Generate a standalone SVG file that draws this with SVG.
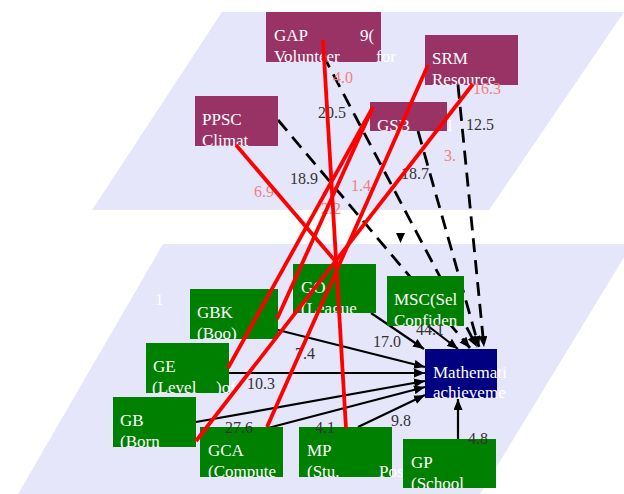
<svg xmlns="http://www.w3.org/2000/svg" width="624" height="494" viewBox="0 0 624 494">
<style>
.plane{fill:#e6e6fa}
.tn{fill:#993366}
.bn{fill:#008000}
.mn{fill:#000080}
.nt{font-family:"Liberation Serif","Times New Roman",serif;font-size:17px;fill:#ffffff}
.lbl{font-family:"Liberation Serif","Times New Roman",serif;font-size:16px;fill:#333333}
.plbl{font-family:"Liberation Serif","Times New Roman",serif;font-size:16px;fill:#f08080}
.solid{stroke:#000;stroke-width:2.2;fill:none;marker-end:url(#ah)}
.dash{stroke:#000;stroke-width:2.8;stroke-dasharray:14 8;fill:none;marker-end:url(#ah)}
.red{stroke:#ff0000;stroke-width:3.8;fill:none}
</style>
<defs>
<marker id="ah" markerWidth="11" markerHeight="9" refX="11" refY="4.5" orient="auto" markerUnits="userSpaceOnUse"><path d="M0,0 L11,4.5 L0,9 z" fill="#000"/></marker>
<clipPath id="cGAP" clipPathUnits="userSpaceOnUse"><rect x="260" y="12" width="160" height="50"/></clipPath>
<clipPath id="cSRM" clipPathUnits="userSpaceOnUse"><rect x="420" y="35" width="120" height="50"/></clipPath>
<clipPath id="cPPSC" clipPathUnits="userSpaceOnUse"><rect x="190" y="96" width="120" height="50"/></clipPath>
<clipPath id="cGSB" clipPathUnits="userSpaceOnUse"><rect x="365" y="102" width="100" height="29"/></clipPath>
<clipPath id="cGO" clipPathUnits="userSpaceOnUse"><rect x="288" y="264" width="120" height="49"/></clipPath>
<clipPath id="cGBK" clipPathUnits="userSpaceOnUse"><rect x="185" y="289" width="120" height="50"/></clipPath>
<clipPath id="cMSC" clipPathUnits="userSpaceOnUse"><rect x="382" y="276" width="120" height="50"/></clipPath>
<clipPath id="cMath" clipPathUnits="userSpaceOnUse"><rect x="420" y="349" width="120" height="49"/></clipPath>
<clipPath id="cGE" clipPathUnits="userSpaceOnUse"><rect x="140" y="343" width="120" height="50"/></clipPath>
<clipPath id="cGB" clipPathUnits="userSpaceOnUse"><rect x="108" y="397" width="120" height="50"/></clipPath>
<clipPath id="cGCA" clipPathUnits="userSpaceOnUse"><rect x="195" y="427" width="120" height="50"/></clipPath>
<clipPath id="cMP" clipPathUnits="userSpaceOnUse"><rect x="294" y="427" width="120" height="50"/></clipPath>
<clipPath id="cGP" clipPathUnits="userSpaceOnUse"><rect x="398" y="439" width="120" height="49"/></clipPath>
</defs>
<rect width="624" height="494" fill="#ffffff"/>
<g id="planes">
<polygon class="plane" points="222,12 624,12 489,210 92,210"/>
<polygon class="plane" points="163,244 632,244 480,494 18,494"/>
<text class="nt" x="155" y="305">1</text>
</g>
<g id="connectors">
<path class="dash" d="M278,120 L470,348"/>
<path class="dash" d="M323,55 L477,347"/>
<path class="dash" d="M418,131 L479,347"/>
<path class="dash" d="M458,85 L484,347"/>
<polygon points="396,233 405,233 400.5,243" fill="#000"/>
<path class="solid" d="M371,313 L424,349"/>
<path class="solid" d="M428,326 L458,349"/>
<path class="solid" d="M278,330 L425,367"/>
<path class="solid" d="M229,373 L425,373"/>
<path class="solid" d="M196,422 L425,381"/>
<path class="solid" d="M268,428 L425,387"/>
<path class="solid" d="M358,427 L425,395"/>
<path class="solid" d="M458,439 L458,399"/>
</g>
<g id="GAP"><rect class="tn" x="266" y="12" width="115" height="50"/><g clip-path="url(#cGAP)"><text class="nt" x="274" y="41">GAP</text><text class="nt" x="360" y="41">9(</text><text class="nt" x="274" y="62">Volunteer</text><text class="nt" x="376" y="62">for</text></g></g>
<g id="SRM"><rect class="tn" x="425" y="35" width="93" height="50"/><g clip-path="url(#cSRM)"><text class="nt" x="432" y="64">SRM</text><text class="nt" x="432" y="85">Resource</text></g></g>
<g id="PPSC"><rect class="tn" x="195" y="96" width="83" height="50"/><g clip-path="url(#cPPSC)"><text class="nt" x="202" y="125">PPSC</text><text class="nt" x="202" y="146">Climat</text></g></g>
<g id="GSB"><rect class="tn" x="370" y="102" width="77" height="29"/><g clip-path="url(#cGSB)"><text class="nt" x="377" y="131">GSB</text><text class="nt" x="447" y="131">I</text></g></g>
<g id="GO"><rect class="bn" x="293" y="264" width="83" height="49"/><g clip-path="url(#cGO)"><text class="nt" x="301" y="293">GO</text><text class="nt" x="301" y="314">(League</text></g></g>
<g id="GBK"><rect class="bn" x="190" y="289" width="88" height="50"/><g clip-path="url(#cGBK)"><text class="nt" x="197" y="318">GBK</text><text class="nt" x="197" y="339">(Boo)</text></g></g>
<g id="MSC"><rect class="bn" x="387" y="276" width="77" height="50"/><g clip-path="url(#cMSC)"><text class="nt" x="394" y="305">MSC(Sel</text><text class="nt" x="394" y="326">Confiden</text></g></g>
<g id="Math"><rect class="mn" x="425" y="349" width="72" height="49"/><g clip-path="url(#cMath)"><text class="nt" x="433" y="378">Mathemati</text><text class="nt" x="433" y="398">achieveme</text></g></g>
<g id="GE"><rect class="bn" x="146" y="343" width="83" height="50"/><g clip-path="url(#cGE)"><text class="nt" x="153" y="372">GE</text><text class="nt" x="152" y="393">(Level</text><text class="nt" x="216" y="393">)of</text></g></g>
<g id="GB"><rect class="bn" x="113" y="397" width="83" height="50"/><g clip-path="url(#cGB)"><text class="nt" x="120" y="426">GB</text><text class="nt" x="120" y="447">(Born</text></g></g>
<g id="GCA"><rect class="bn" x="200" y="427" width="83" height="50"/><g clip-path="url(#cGCA)"><text class="nt" x="208" y="456">GCA</text><text class="nt" x="208" y="477">(Compute</text></g></g>
<g id="MP"><rect class="bn" x="299" y="427" width="93" height="50"/><g clip-path="url(#cMP)"><text class="nt" x="307" y="456">MP</text><text class="nt" x="307" y="477">(Stu.</text><text class="nt" x="379" y="477">Pos</text></g></g>
<g id="GP"><rect class="bn" x="403" y="439" width="93" height="49"/><g clip-path="url(#cGP)"><text class="nt" x="411" y="468">GP</text><text class="nt" x="411" y="489">(School</text></g></g>
<g id="labels">
<text class="lbl" x="318" y="118">20.5</text>
<text class="lbl" x="466" y="130">12.5</text>
<text class="lbl" x="290" y="184">18.9</text>
<text class="lbl" x="401" y="179">18.7</text>
<text class="lbl" x="373" y="347">17.0</text>
<text class="lbl" x="416" y="335">44.1</text>
<text class="lbl" x="295" y="359">7.4</text>
<text class="lbl" x="247" y="389">10.3</text>
<text class="lbl" x="225" y="433">27.6</text>
<text class="lbl" x="315" y="433">4.1</text>
<text class="lbl" x="391" y="426">9.8</text>
<text class="lbl" x="468" y="444">4.8</text>
<text class="plbl" x="333" y="83">4.0</text>
<text class="plbl" x="473" y="94">16.3</text>
<text class="plbl" x="444" y="161">3.</text>
<text class="plbl" x="254" y="197">6.9</text>
<text class="plbl" x="351" y="191">1.4</text>
<text class="plbl" x="321" y="214">2.2</text>
</g>
<g id="connectors-red">
<path class="red" d="M323,40 L346,428"/>
<path class="red" d="M236,145 L337,263"/>
<path class="red" d="M373,107 L277,319"/>
<path class="red" d="M373,107 L228,368"/>
<path class="red" d="M428,65 L267,427"/>
<path class="red" d="M473,84 L196,441"/>
</g>
</svg>
